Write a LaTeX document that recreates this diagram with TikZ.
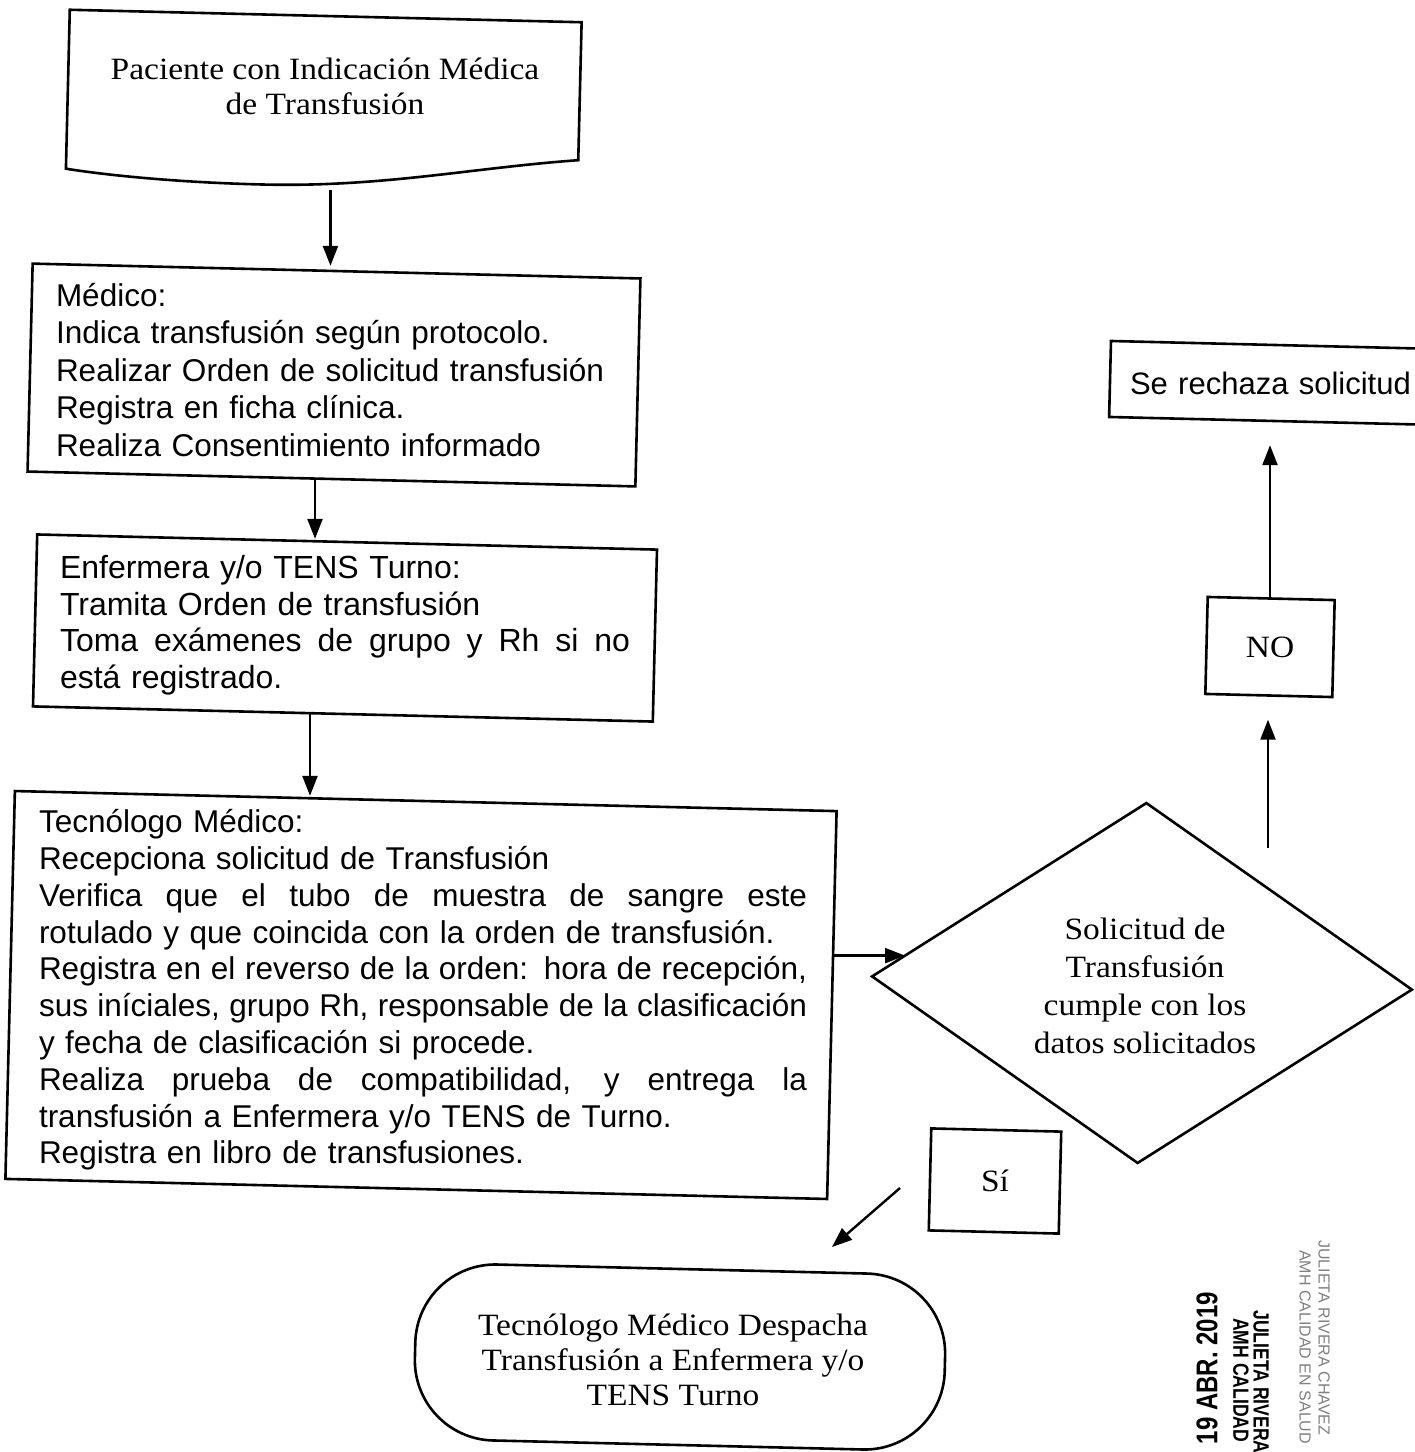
\documentclass[tikz,border=0pt]{standalone}
\usepackage{fontspec}
\setmainfont{Liberation Serif}
\newfontfamily\serifw{Liberation Serif}[FakeStretch=1.08]
\newfontfamily\sansf{Liberation Sans}
\newfontfamily\stampf{Liberation Sans}[FakeStretch=0.8]
\usetikzlibrary{arrows.meta,shapes.geometric,calc}

\newcommand\jline[2]{\makebox[#1][s]{\spaceskip=0.278em plus 1fil\relax #2}}
\newcommand\nohy{\hyphenpenalty=10000\relax\exhyphenpenalty=10000\relax}
\newcommand\tiltbox[3]{%
  \begin{scope}[shift={#1}, rotate=-1.4]
    \draw[ink] (-#2,-#3) -- (#2,-#3) -- (#2,#3) -- (-#2,#3) -- cycle;
  \end{scope}}

\tikzset{
  ink/.style={line width=2.6pt, draw=black, line join=miter},
  proctext/.style={rectangle, inner ysep=0pt, align=left,
    execute at begin node=\nohy},
  seriftext/.style={align=center, inner sep=0pt,
    font=\serifw\fontsize{31}{35}\selectfont},
  arr/.style={line width=2.4pt, -{Triangle[length=20pt,width=15pt]}},
  stamp/.style={font=\stampf\bfseries\fontsize{22}{22}\selectfont, inner sep=0pt},
  fadedstamp/.style={font=\sansf\fontsize{16}{16}\selectfont, text=black!50, inner sep=0pt},
}

\begin{document}
\begin{tikzpicture}[x=1pt,y=-1pt]
\useasboundingbox[fill=white] (0,0) rectangle (1415,1452);

% ---- start (document shape)
\node[seriftext] (start) at (325,86) {Paciente con Indicación Médica\\de Transfusión};
\begin{scope}[shift={(start.center)}, rotate=-1.4]
  \draw[ink] (-257,89) -- (-257,-70) -- (255,-70) -- (255,68)
    .. controls (150,78) and (60,100) .. (-60,100)
    .. controls (-150,100) and (-220,94) .. (-257,89) -- cycle;
  \coordinate (startbot) at (8,104);
\end{scope}

% ---- process boxes
\node[proctext, minimum width=608pt, minimum height=208pt, text width=562pt, inner xsep=23pt,
      font=\sansf\fontsize{31.5}{37.5}\selectfont]
  (medico) at (337,370)
  {Médico:\\
   Indica transfusión según protocolo.\\
   Realizar Orden de solicitud transfusión\\
   Registra en ficha clínica.\\
   Realiza Consentimiento informado};
\tiltbox{(334,375)}{304}{104}

\node[proctext, minimum width=620pt, minimum height=172pt, text width=570pt, inner xsep=25pt,
      font=\sansf\fontsize{32}{36.5}\selectfont]
  (enfer) at (345,625)
  {Enfermera y/o TENS Turno:\\
   Tramita Orden de transfusión\\
   \jline{570pt}{Toma exámenes de grupo y Rh si no}\\
   está registrado.};
\tiltbox{(345,628)}{310}{86}

\node[proctext, minimum width=822pt, minimum height=388pt, text width=768pt, inner xsep=27pt,
      font=\sansf\fontsize{31.5}{36.8}\selectfont]
  (tec) at (423,990)
  {Tecnólogo Médico:\\
   Recepciona solicitud de Transfusión\\
   \jline{768pt}{Verifica que el tubo de muestra de sangre este}\\
   rotulado y que coincida con la orden de transfusión.\\
   \jline{768pt}{Registra en el reverso de la orden: hora de recepción,}\\
   \jline{768pt}{sus iníciales, grupo Rh, responsable de la clasificación}\\
   y fecha de clasificación si procede.\\
   \jline{768pt}{Realiza prueba de compatibilidad, y entrega la}\\
   transfusión a Enfermera y/o TENS de Turno.\\
   Registra en libro de transfusiones.};
\tiltbox{(421,995)}{411}{194}

% ---- decision
\node[diamond, minimum width=540pt, minimum height=360pt, aspect=1.5,
      inner sep=0pt, align=center, font=\serifw\fontsize{31}{38}\selectfont]
  (dec) at (1145,986)
  {Solicitud de\\Transfusión\\cumple con los\\datos solicitados};
\begin{scope}[shift={(1142,983)}, rotate=-1.4]
  \draw[ink] (-270,0) -- (0,-180) -- (270,0) -- (0,180) -- cycle;
  \coordinate (decin) at (-237.6,-21.6);
\end{scope}

% ---- labels / outcomes
\node[seriftext, minimum width=127pt, minimum height=97pt] (no) at (1270,647) {NO};
\tiltbox{(no.center)}{63.5}{48.5}
\node[seriftext, minimum width=130pt, minimum height=102pt] (si) at (995,1181) {Sí};
\tiltbox{(si.center)}{65}{51}
\node[minimum width=330pt, minimum height=76pt, text width=290pt, inner xsep=20pt,
      inner ysep=0pt, align=left, font=\sansf\fontsize{31}{31}\selectfont]
  (rech) at (1275,383) {Se rechaza solicitud};
\tiltbox{(rech.center)}{165}{38}
\node[seriftext, minimum width=530pt, minimum height=176pt]
  (term) at (673,1360)
  {Tecnólogo Médico Despacha\\Transfusión a Enfermera y/o\\TENS Turno};
\begin{scope}[shift={(680,1357)}, rotate=-1.4]
  \draw[ink, rounded corners=80pt] (-265,-88) -- (265,-88) -- (265,88) -- (-265,88) -- cycle;
\end{scope}

% ---- connectors
\draw[arr] (startbot) -- (startbot |- medico.north);
\coordinate (m2) at ([xshift=-22pt, yshift=-6pt]medico.south);
\draw[arr] (m2) -- (m2 |- enfer.north);
\coordinate (e3) at ([xshift=-35pt, yshift=-3pt]enfer.south);
\draw[arr] (e3) -- (e3 |- tec.north);
\draw[arr] (decin -| tec.east) -- (decin);
\coordinate (nofrom) at (1268,848);
\draw[arr, shorten >=24pt] (nofrom) -- (nofrom |- no.south);
\draw[arr, shorten >=24pt] (no.north) -- (no.north |- rech.south);
\coordinate (sifrom) at (900,1188);
\coordinate (sito) at (832,1247);
\draw[arr] (sifrom) -- (sito);

% ---- stamps
\node[stamp, font=\stampf\bfseries\fontsize{30}{30}\selectfont, rotate=90, anchor=east]
  (date) at (1207,1292) {19 ABR. 2019};
\node[stamp, rotate=-90, anchor=west] (jr) at (1261,1310) {JULIETA RIVERA};
\node[stamp, rotate=-90, anchor=west] (ac) at (1241,1318) {AMH CALIDAD};
\node[fadedstamp, rotate=-90, anchor=west] (jc) at (1324,1240) {JULIETA RIVERA CHAVEZ};
\node[fadedstamp, rotate=-90, anchor=west] (as) at (1305,1250) {AMH CALIDAD EN SALUD};
\end{tikzpicture}
\end{document}
